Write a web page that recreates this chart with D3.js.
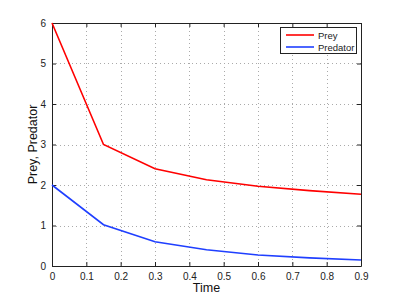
<!DOCTYPE html>
<html>
<head>
<meta charset="utf-8">
<script src="https://cdn.jsdelivr.net/npm/d3@7"></script>
<style>
body { margin: 0; background: #fff; }
text { font-family: "Liberation Sans", Arial, sans-serif; }
</style>
</head>
<body>
<svg id="chart" width="399" height="300"></svg>
<script>
// data
var time = [0, 0.15, 0.3, 0.45, 0.6, 0.75, 0.9];
var prey = [6, 3.0, 2.4, 2.13, 1.97, 1.86, 1.77];
var predator = [2, 1.02, 0.6, 0.4, 0.27, 0.2, 0.15];
var xTicks = [0, 0.1, 0.2, 0.3, 0.4, 0.5, 0.6, 0.7, 0.8, 0.9];
var yTicks = [0, 1, 2, 3, 4, 5, 6];
var seriesNames = ["Prey", "Predator"];
var seriesColors = ["#ff0000", "#1f3fff"];

var svg = d3.select("#chart"),
    pLeft = 52, pRight = 361, pTop = 23, pBottom = 266;

var x = d3.scaleLinear().domain([0, 0.9]).range([pLeft, pRight]),
    y = d3.scaleLinear().domain([0, 6]).range([pBottom, pTop]);

// grid
var grid = svg.append("g")
    .attr("stroke", "#aaa")
    .attr("stroke-width", 1)
    .attr("stroke-dasharray", "1,3");
grid.selectAll(".vx").data(xTicks.slice(1, -1)).enter().append("line")
    .attr("x1", function(d) { return Math.round(x(d)) + 0.5; })
    .attr("x2", function(d) { return Math.round(x(d)) + 0.5; })
    .attr("y1", pTop).attr("y2", pBottom);
grid.selectAll(".hy").data(yTicks.slice(1, -1)).enter().append("line")
    .attr("y1", function(d) { return Math.round(y(d)) + 0.5; })
    .attr("y2", function(d) { return Math.round(y(d)) + 0.5; })
    .attr("x1", pLeft).attr("x2", pRight);

// axes, ticks point inward
svg.append("g").attr("transform", "translate(0," + pBottom + ")")
    .call(d3.axisBottom(x).tickValues(xTicks).tickSizeInner(-4).tickSizeOuter(0).tickPadding(7)
      .tickFormat(function(d) { return d === 0 ? "0" : d3.format(".1f")(d); }));
svg.append("g").attr("transform", "translate(0," + pTop + ")")
    .call(d3.axisTop(x).tickValues(xTicks).tickSizeInner(-4).tickSizeOuter(0).tickFormat(""));
svg.append("g").attr("transform", "translate(" + pLeft + ",0)")
    .call(d3.axisLeft(y).tickValues(yTicks).tickSizeInner(-4).tickSizeOuter(0).tickPadding(6)
      .tickFormat(d3.format("d")));
svg.append("g").attr("transform", "translate(" + pRight + ",0)")
    .call(d3.axisRight(y).tickValues(yTicks).tickSizeInner(-4).tickSizeOuter(0).tickFormat(""));

svg.selectAll(".domain").attr("stroke", "#222");
svg.selectAll(".tick line").attr("stroke", "#222");
svg.selectAll(".tick text").attr("font-size", 10).attr("fill", "#222")
    .style("font-family", "Liberation Sans, Arial, sans-serif");

// lines
var line = d3.line()
    .x(function(d, i) { return x(time[i]); })
    .y(function(d) { return y(d); });

[prey, predator].forEach(function(s, i) {
  svg.append("path")
      .datum(s)
      .attr("fill", "none")
      .attr("stroke", seriesColors[i])
      .attr("stroke-width", 1.6)
      .attr("d", line);
});

// axis labels
svg.append("text")
    .attr("x", (pLeft + pRight) / 2).attr("y", 292)
    .attr("text-anchor", "middle")
    .attr("font-size", 12.5)
    .attr("fill", "#111")
    .text("Time");
svg.append("text")
    .attr("transform", "translate(37," + (pTop + pBottom) / 2 + ") rotate(-90)")
    .attr("text-anchor", "middle")
    .attr("font-size", 12.5)
    .attr("fill", "#111")
    .text("Prey, Predator");

// legend
var legend = svg.append("g").attr("transform", "translate(280,27)");
legend.append("rect")
    .attr("x", 0.5).attr("y", 0.5)
    .attr("width", 76).attr("height", 26)
    .attr("fill", "#fff").attr("stroke", "#222");
seriesNames.forEach(function(name, i) {
  var ly = 8 + i * 12;
  legend.append("line")
      .attr("x1", 6).attr("x2", 34)
      .attr("y1", ly).attr("y2", ly)
      .attr("stroke", seriesColors[i]).attr("stroke-width", 1.6);
  legend.append("text")
      .attr("x", 38).attr("y", ly + 3.5)
      .attr("font-size", 9.5).attr("fill", "#222")
      .text(name);
});
</script>
</body>
</html>
